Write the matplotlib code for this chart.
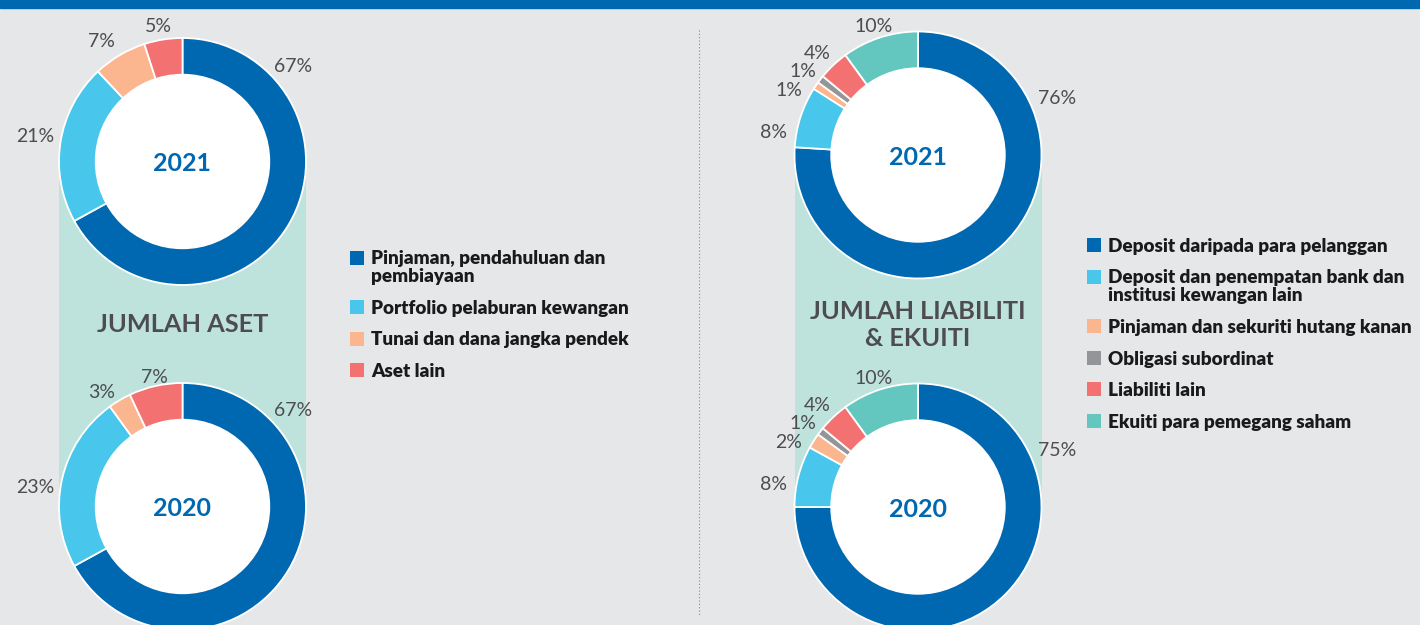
import numpy as np
import matplotlib.pyplot as plt

plt.rcParams['font.family'] = ['Lato', 'DejaVu Sans']

# data (percent shares)
years = ['2021', '2020']
aset_labels = ['Pinjaman, pendahuluan dan\npembiayaan', 'Portfolio pelaburan kewangan',
               'Tunai dan dana jangka pendek', 'Aset lain']
aset_2021 = [67, 21, 7, 5]
aset_2020 = [67, 23, 3, 7]

liab_labels = ['Deposit daripada para pelanggan',
               'Deposit dan penempatan bank dan\ninstitusi kewangan lain',
               'Pinjaman dan sekuriti hutang kanan', 'Obligasi subordinat',
               'Liabiliti lain', 'Ekuiti para pemegang saham']
liab_2021 = [76, 8, 1, 1, 4, 10]
liab_2020 = [75, 8, 2, 1, 4, 10]

aset_colors = ['#0067B1', '#48C6EC', '#FBB58F', '#F37170']
liab_colors = ['#0067B1', '#48C6EC', '#FBB58F', '#939598', '#F37170', '#63C6BF']

# label placement: (angle clockwise from 12 o'clock, distance from centre in px)
aset_pos_2021 = [(49, 147), (280, 150), (326.5, 146), (350, 138.5)]
aset_pos_2020 = [(48.6, 147), (278, 149), (325, 140.5), (347.7, 133.5)]
liab_pos = [(67.2, 150.5), (279.4, 146), (297, 145), (306.4, 143.5), (315.6, 144.6), (341.2, 137.1)]

BG = '#E6E7E9'
BLUE = '#0067B1'
BAND = '#BEE3DD'
GREY_TXT = '#4D4D4F'
W, H = 1420, 625
R_OUT, R_IN = 123.5, 87
CAP = 0.717 * 100 / 72  # cap height in px per point (Lato)

fig = plt.figure(figsize=(W / 100, H / 100), dpi=100, facecolor=BG)
ax = fig.add_axes([0, 0, 1, 1])
ax.set_facecolor(BG)


def txt(x, yc, s, size, **kw):
    # yc is the visual centre of the capitals, measured from the top of the image
    ax.text(x, H - yc - CAP * size / 2, s, va='baseline', fontsize=size, zorder=4, **kw)


def donut(values, colors, cx, cy, year, pos):
    y = H - cy
    ax.pie(values, colors=colors, center=(cx, y), radius=R_OUT, startangle=90,
           counterclock=False, frame=True,
           wedgeprops=dict(edgecolor='white', linewidth=1.3, zorder=2))
    ax.add_patch(plt.Circle((cx, y), R_IN, color='white', zorder=3))
    txt(cx, cy + 1, year, 18, ha='center', fontweight='bold', color=BLUE)
    for v, (a, r) in zip(values, pos):
        t = np.deg2rad(a)
        txt(cx + r * np.sin(t), cy - r * np.cos(t), f'{v}%', 14, ha='center',
            color=GREY_TXT)


def legend(labels, colors, x, y0, step=31.6, extra=18):
    y = y0
    for lab, c in zip(labels, colors):
        ax.scatter([x + 6.5], [H - y], marker='s', s=88, color=c, linewidths=0, zorder=4)
        for i, line in enumerate(lab.split('\n')):
            txt(x + 21, y + i * extra, line, 13.6, ha='left', fontweight=800,
                color='#1A1A1A')
        y += step + extra * lab.count('\n')


# top bar
ax.axhspan(H - 8, H, color=BLUE, zorder=5)

# left group: assets
lx = 182.5
ax.fill_between([lx - R_OUT, lx + R_OUT], H - 161.5, H - 506.5, color=BAND, lw=0, zorder=0)
donut(aset_2021, aset_colors, lx, 161.5, years[0], aset_pos_2021)
donut(aset_2020, aset_colors, lx, 506.5, years[1], aset_pos_2020)
txt(lx, 323, 'JUMLAH ASET', 18.3, ha='center', fontweight='bold', color=GREY_TXT)
legend(aset_labels, aset_colors, 350, 257.5)

# divider
ax.plot([699, 699], [H - 30, H - 615], ls=(0, (1, 2)), color='#8A8A8A', lw=0.8)

# right group: liabilities & equity
rx = 918
ax.fill_between([rx - R_OUT, rx + R_OUT], H - 155, H - 507, color=BAND, lw=0, zorder=0)
donut(liab_2021, liab_colors, rx, 155, years[0], liab_pos)
donut(liab_2020, liab_colors, rx, 507, years[1], liab_pos)
txt(rx, 310, 'JUMLAH LIABILITI', 18.3, ha='center', fontweight='bold', color=GREY_TXT)
txt(rx, 337, '& EKUITI', 18.3, ha='center', fontweight='bold', color=GREY_TXT)
legend(liab_labels, liab_colors, 1087, 245)

ax.set_xlim(0, W)
ax.set_ylim(0, H)
ax.set_aspect('equal')
ax.axis('off')

fig.savefig('out.png', dpi=100, facecolor=BG)
